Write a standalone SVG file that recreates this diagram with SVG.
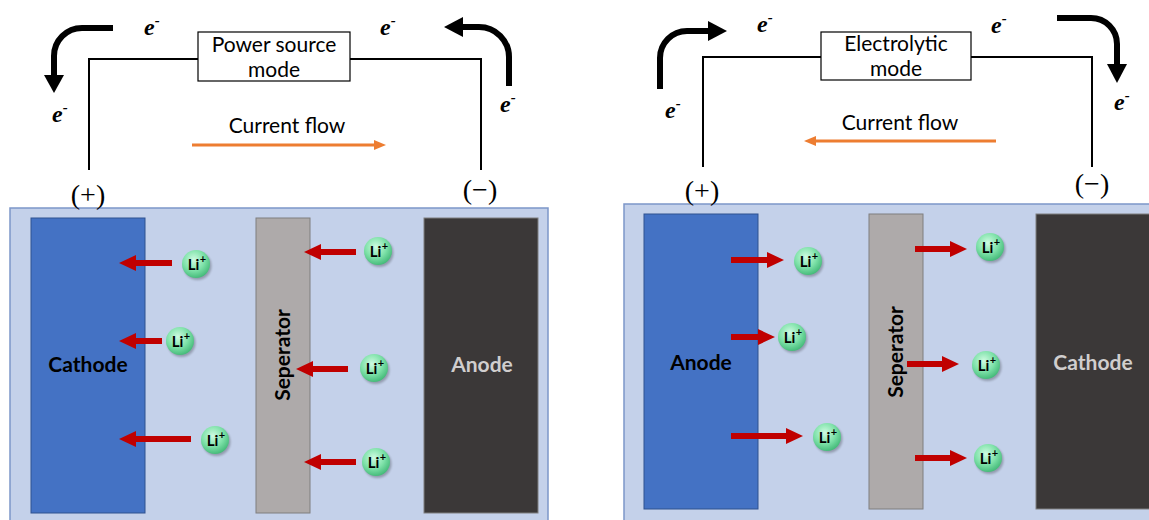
<svg xmlns="http://www.w3.org/2000/svg" width="1149" height="520" viewBox="0 0 1149 520">
<defs>
<style>
.wire{fill:none;stroke:#000;stroke-width:2}
.box{fill:#fff;stroke:#000;stroke-width:1.2}
.lbl{font-family:Lato,"Liberation Sans",sans-serif;font-size:21px;fill:#000;text-anchor:middle}
.pol{font-family:"Liberation Serif",serif;font-size:28px;fill:#000;text-anchor:middle}
.el{font-family:"Liberation Serif",serif;font-weight:bold;font-style:italic;font-size:24px;fill:#000}
.sup{font-size:15px}
.ebig{fill:none;stroke:#000;stroke-width:6}
.bg{fill:#C4D1EA;stroke:#7C96C9;stroke-width:1.5}
.blue{fill:#4472C4;stroke:#2F528F;stroke-width:1}
.sep{fill:#AEAAAA;stroke:#7F7F7F;stroke-width:1}
.dark{fill:#3B3838;stroke:#7F7F7F;stroke-width:1}
.etxt{font-family:Lato,"Liberation Sans",sans-serif;font-weight:bold;font-size:21px;text-anchor:middle}
.lit{font-family:Lato,"Liberation Sans",sans-serif;font-weight:bold;fill:#000}
.red{fill:#C00000}
.orange{stroke:#ED7D31;stroke-width:3}
.ofill{fill:#ED7D31}
</style>
<radialGradient id="lig" cx="0.42" cy="0.35" r="0.7">
<stop offset="0" stop-color="#CFFBE2"/>
<stop offset="0.55" stop-color="#7DE1A8"/>
<stop offset="1" stop-color="#3DB573"/>
</radialGradient>
<filter id="blur" x="-50%" y="-50%" width="200%" height="200%"><feGaussianBlur stdDeviation="1.2"/></filter>
<g id="ion">
<circle cx="1.5" cy="2" r="14" fill="#000" opacity="0.25" filter="url(#blur)"/>
<circle cx="0" cy="0" r="14" fill="url(#lig)"/>
<text class="lit" x="-2.5" y="5.5" font-size="15" text-anchor="middle">Li</text>
<text class="lit" x="7" y="-1" font-size="11" text-anchor="middle">+</text>
</g>
</defs>
<rect width="1149" height="520" fill="#fff"/>

<!-- LEFT PANEL -->
<g id="left-cell">
<rect class="bg" x="10" y="208" width="538" height="320"/>
</g>
<g id="left-cathode">
<rect class="blue" x="31" y="218" width="114" height="295"/>
<text class="etxt" x="88" y="372" fill="#000">Cathode</text>
</g>
<g id="left-separator">
<rect class="sep" x="256" y="218" width="54" height="295"/>
<text class="etxt" transform="translate(290,355) rotate(-90)" fill="#000">Seperator</text>
</g>
<g id="left-anode">
<rect class="dark" x="424" y="218" width="114" height="295"/>
<text class="etxt" x="482" y="372" fill="#D0CECE">Anode</text>
</g>
<g id="left-power">
<rect class="box" x="198" y="32" width="152" height="49"/>
<text class="lbl" x="274" y="52">Power source</text>
<text class="lbl" x="274" y="77">mode</text>
</g>
<g id="left-current-label">
<text class="lbl" x="287" y="133">Current flow</text>
</g>
<g id="left-terminals">
<text class="pol" x="88" y="204">(+)</text>
<text class="pol" x="480" y="199">(−)</text>
</g>
<g id="left-electrons">
<text class="el" x="144" y="35">e<tspan class="sup" dy="-10">-</tspan></text>
<text class="el" x="380" y="35">e<tspan class="sup" dy="-10">-</tspan></text>
<text class="el" x="52" y="122">e<tspan class="sup" dy="-10">-</tspan></text>
<text class="el" x="500" y="112">e<tspan class="sup" dy="-10">-</tspan></text>
</g>
<g id="left-ions">
<use href="#ion" x="196" y="264"/>
<use href="#ion" x="180" y="341"/>
<use href="#ion" x="215" y="440"/>
<use href="#ion" x="378" y="251"/>
<use href="#ion" x="374" y="368"/>
<use href="#ion" x="376" y="462"/>
</g>

<!-- RIGHT PANEL -->
<g id="right-cell">
<rect class="bg" x="624" y="204" width="540" height="330"/>
</g>
<g id="right-anode">
<rect class="blue" x="644" y="214" width="114" height="295"/>
<text class="etxt" x="701" y="370" fill="#000">Anode</text>
</g>
<g id="right-separator">
<rect class="sep" x="869" y="214" width="54" height="295"/>
<text class="etxt" transform="translate(903,352) rotate(-90)" fill="#000">Seperator</text>
</g>
<g id="right-cathode">
<rect class="dark" x="1036" y="214" width="125" height="295"/>
<text class="etxt" x="1093" y="370" fill="#D0CECE">Cathode</text>
</g>
<g id="right-electrolytic">
<rect class="box" x="821" y="32" width="150" height="48"/>
<text class="lbl" x="896" y="51">Electrolytic</text>
<text class="lbl" x="896" y="76">mode</text>
</g>
<g id="right-current-label">
<text class="lbl" x="900" y="130">Current flow</text>
</g>
<g id="right-terminals">
<text class="pol" x="702" y="200">(+)</text>
<text class="pol" x="1092" y="193">(−)</text>
</g>
<g id="right-electrons">
<text class="el" x="757" y="32">e<tspan class="sup" dy="-10">-</tspan></text>
<text class="el" x="991" y="33">e<tspan class="sup" dy="-10">-</tspan></text>
<text class="el" x="665" y="118">e<tspan class="sup" dy="-10">-</tspan></text>
<text class="el" x="1114" y="110">e<tspan class="sup" dy="-10">-</tspan></text>
</g>
<g id="right-ions">
<use href="#ion" x="808" y="261"/>
<use href="#ion" x="792" y="337"/>
<use href="#ion" x="827" y="437"/>
<use href="#ion" x="990" y="247"/>
<use href="#ion" x="986" y="365"/>
<use href="#ion" x="988" y="458"/>
</g>

<!-- CONNECTORS -->
<g id="connectors">
<path class="wire" d="M89,170 V59 H198"/>
<path class="wire" d="M350,59 H481 V170"/>
<path class="wire" d="M703,167 V57 H821"/>
<path class="wire" d="M971,57 H1092 V167"/>

<path class="ebig" d="M113,28 H82 A28,28 0 0 0 54,56 V76"/>
<polygon points="44,75 64,75 54,93"/>
<path class="ebig" d="M509,86 V57 A30,30 0 0 0 479,27 H462"/>
<polygon points="463,17 463,37 444,27"/>
<path class="ebig" d="M660,89 V58 A27,27 0 0 1 687,31 H710"/>
<polygon points="708,21 708,41 727,31"/>
<path class="ebig" d="M1057,18 H1091 A26,26 0 0 1 1117,44 V66"/>
<polygon points="1107,64 1127,64 1117,83"/>

<line class="orange" x1="192" y1="145" x2="375" y2="145"/>
<polygon class="ofill" points="374,140 386,145 374,150"/>
<line class="orange" x1="996" y1="141" x2="815" y2="141"/>
<polygon class="ofill" points="816,136 804,141 816,146"/>

<polygon class="red" points="119,263 136,255 136,260 172,260 172,266 136,266 136,271"/>
<polygon class="red" points="119,341 136,333 136,338 162,338 162,344 136,344 136,349"/>
<polygon class="red" points="119,439 136,431 136,436 191,436 191,442 136,442 136,447"/>
<polygon class="red" points="304,252 321,244 321,249 356,249 356,255 321,255 321,260"/>
<polygon class="red" points="296,369 313,361 313,366 348,366 348,372 313,372 313,377"/>
<polygon class="red" points="304,462 321,454 321,459 356,459 356,465 321,465 321,470"/>

<polygon class="red" points="784,260 767,252 767,257 731,257 731,263 767,263 767,268"/>
<polygon class="red" points="775,337 758,329 758,334 731,334 731,340 758,340 758,345"/>
<polygon class="red" points="803,436 786,428 786,433 731,433 731,439 786,439 786,444"/>
<polygon class="red" points="967,249 950,241 950,246 915,246 915,252 950,252 950,257"/>
<polygon class="red" points="959,364 942,356 942,361 907,361 907,367 942,367 942,372"/>
<polygon class="red" points="967,458 950,450 950,455 915,455 915,461 950,461 950,466"/>
</g>
</svg>
